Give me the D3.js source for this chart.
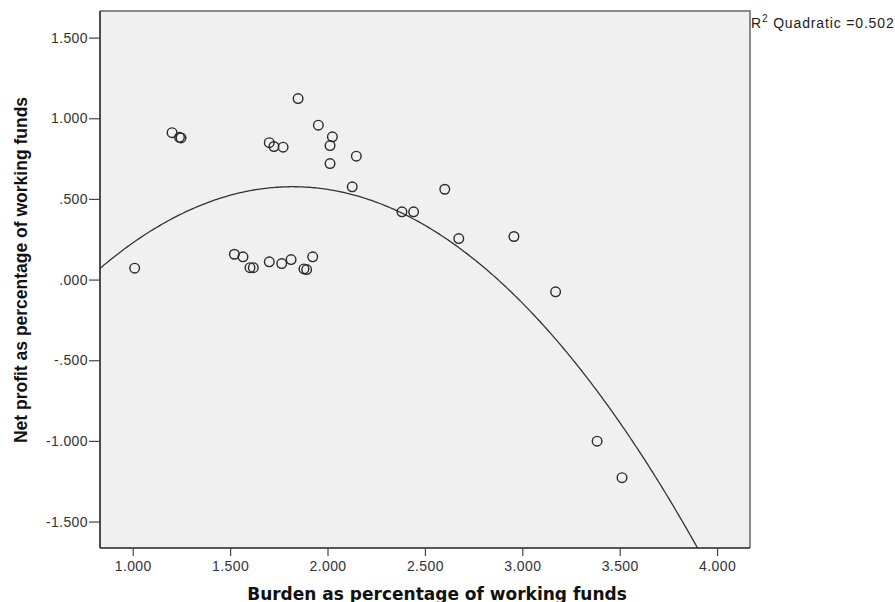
<!DOCTYPE html>
<html>
<head>
<meta charset="utf-8">
<script src="https://cdn.jsdelivr.net/npm/d3@7"></script>
<style>
body { margin: 0; background: #fff; }
text { font-family: "Liberation Sans", Arial, sans-serif; }
</style>
</head>
<body>
<script>
// burden as % of working funds (x) vs net profit as % of working funds (y)
burden = [1.010, 1.202, 1.240, 1.248, 1.701, 1.725, 1.772, 1.849, 1.953, 2.025,
          2.013, 2.013, 2.148, 2.127, 2.382, 2.442, 2.602, 1.522, 1.566, 1.602,
          1.619, 1.701, 1.765, 1.813, 1.879, 1.893, 1.924, 2.674, 2.957, 3.171,
          3.384, 3.512]
netProfit = [0.071, 0.911, 0.882, 0.878, 0.849, 0.825, 0.821, 1.122, 0.957, 0.885,
             0.831, 0.719, 0.765, 0.575, 0.420, 0.420, 0.560, 0.157, 0.141, 0.074,
             0.074, 0.110, 0.099, 0.124, 0.066, 0.062, 0.141, 0.254, 0.267, -0.076,
             -1.002, -1.228]

xTicks = [1, 1.5, 2, 2.5, 3, 3.5, 4]
xTickLabels = ["1.000", "1.500", "2.000", "2.500", "3.000", "3.500", "4.000"]
yTicks = [1.5, 1, 0.5, 0, -0.5, -1, -1.5]
yTickLabels = ["1.500", "1.000", ".500", ".000", "-.500", "-1.000", "-1.500"]

// quadratic fit: y = b0 + b1*x + b2*x^2
fitCoef = [-1.141, 1.886, -0.518]
rSquared = "0.502"

xTitle = "Burden as percentage of working funds"
yTitle = "Net profit as percentage of working funds"

var pLeft = 100
var pTop = 11
var pRight = 750
var pBottom = 548

var svg = d3.select("body").append("svg")
        .attr("width", 895)
        .attr("height", 602)

var x = d3.scaleLinear().domain([0.832, 4.169]).range([pLeft, pRight])
var y = d3.scaleLinear().domain([-1.664, 1.665]).range([pBottom, pTop])

svg.append("rect")
        .attr("x", pLeft).attr("y", pTop)
        .attr("width", pRight - pLeft).attr("height", pBottom - pTop)
        .attr("fill", "#f0f0f0")

svg.append("clipPath").attr("id", "plotclip")
        .append("rect")
        .attr("x", pLeft).attr("y", pTop)
        .attr("width", pRight - pLeft).attr("height", pBottom - pTop)

// fit line
var fitX = d3.range(0.832, 4.17, 0.01)
var fitLine = d3.line()
        .x(function(d) { return x(d) })
        .y(function(d) { return y(fitCoef[0] + fitCoef[1] * d + fitCoef[2] * d * d) })

svg.append("path")
        .datum(fitX)
        .attr("clip-path", "url(#plotclip)")
        .attr("fill", "none")
        .attr("stroke", "#333")
        .attr("stroke-width", 1.3)
        .attr("d", fitLine)

// points
svg.append("g").attr("class", "points")
        .selectAll("circle").data(burden)
        .enter().append("circle")
        .attr("cx", function(d) { return x(d) })
        .attr("cy", function(d, i) { return y(netProfit[i]) })
        .attr("r", 4.8)
        .attr("fill", "none")
        .attr("stroke", "#2a2a2a")
        .attr("stroke-width", 1.4)

// frame: grey top/right, black axes
svg.append("path")
        .attr("d", "M" + pLeft + "," + pTop + "H" + pRight + "V" + pBottom)
        .attr("fill", "none")
        .attr("stroke", "#8a8a8a")
        .attr("stroke-width", 2)

var xAxis = d3.axisBottom(x).tickValues(xTicks)
        .tickFormat(function(d, i) { return xTickLabels[i] })
        .tickSize(8).tickPadding(5)
var yAxis = d3.axisLeft(y).tickValues(yTicks)
        .tickFormat(function(d, i) { return yTickLabels[i] })
        .tickSize(11).tickPadding(1)

var gx = svg.append("g").attr("transform", "translate(0," + pBottom + ")").call(xAxis)
var gy = svg.append("g").attr("transform", "translate(" + pLeft + ",0)").call(yAxis)

;[gx, gy].forEach(function(g) {
        g.select(".domain").attr("stroke", "#222").attr("stroke-width", 1.6)
        g.selectAll(".tick line").attr("stroke", "#444").attr("stroke-width", 1.2)
        g.selectAll(".tick text")
                .attr("fill", "#333")
                .style("font-size", "14px")
                .style("letter-spacing", "0.4px")
                .style("font-family", "'Liberation Sans', Arial, sans-serif")
})
gx.select(".domain").attr("d", "M" + pLeft + ",0H" + pRight)
gy.select(".domain").attr("d", "M0," + pTop + "V" + pBottom)

// axis titles
svg.append("text")
        .attr("x", 437).attr("y", 600)
        .attr("text-anchor", "middle")
        .attr("font-size", 17).attr("font-weight", "bold")
        .style("font-family", "'DejaVu Sans', Verdana, sans-serif")
        .attr("fill", "#111")
        .text(xTitle)

svg.append("text")
        .attr("transform", "translate(27,270) rotate(-90)")
        .attr("text-anchor", "middle")
        .attr("font-size", 17.5).attr("font-weight", "bold")
        .attr("fill", "#111")
        .text(yTitle)

// R^2 annotation
var r2 = svg.append("text")
        .attr("x", 751).attr("y", 28)
        .attr("font-size", 14)
        .style("letter-spacing", "0.85px")
        .attr("fill", "#222")
r2.append("tspan").text("R")
r2.append("tspan").attr("dy", -6).attr("font-size", 10).text("2")
r2.append("tspan").attr("dy", 6).text(" Quadratic =" + rSquared)
</script>
</body>
</html>
